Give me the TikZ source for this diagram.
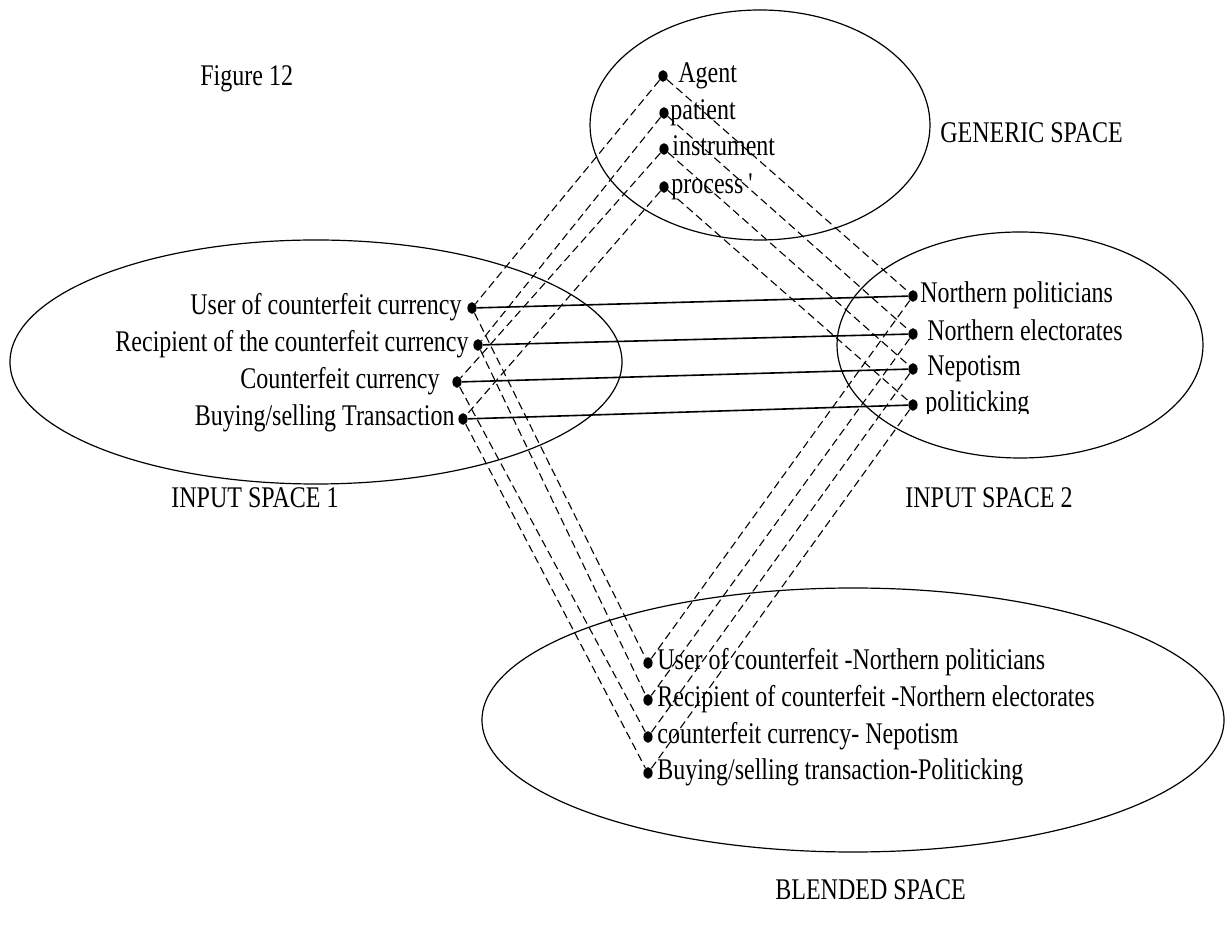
\documentclass[tikz,border=0pt]{standalone}
\usepackage{fontspec}
\setmainfont{Liberation Serif}[FakeStretch=0.8]
\usetikzlibrary{shapes.geometric}
\begin{document}
\begin{tikzpicture}[x=0.5pt,y=-0.5pt,
  dot/.style={ellipse,fill=black,inner sep=0pt,minimum width=4.6pt,minimum height=5.8pt},
  lbl/.style={inner sep=0pt,font=\fontsize{15pt}{18pt}\selectfont},
  lblw/.style={lbl,anchor=base west},
  lble/.style={lbl,anchor=base east},
  spacering/.style={draw=black,line width=0.6pt},
  mapline/.style={draw=black,line width=0.55pt,dash pattern=on 4pt off 2.2pt},
  link/.style={draw=black,line width=0.8pt}]
\useasboundingbox (0,0) rectangle (1226,929);

% the four mental spaces
\draw[spacering] (760,125) ellipse [x radius=170, y radius=115];
\draw[spacering] (316,362) ellipse [x radius=306, y radius=122];
\draw[spacering] (1020,345) ellipse [x radius=183, y radius=113];
\draw[spacering] (853,720) ellipse [x radius=371, y radius=132];

% generic space elements
\node[dot] (g1) at (663,76) {};
\node[dot] (g2) at (664,113) {};
\node[dot] (g3) at (664,149) {};
\node[dot] (g4) at (664,187) {};
% input space 1 elements
\node[dot] (a1) at (472,308) {};
\node[dot] (a2) at (478,345) {};
\node[dot] (a3) at (457,382) {};
\node[dot] (a4) at (463,419) {};
% input space 2 elements
\node[dot] (b1) at (913,296) {};
\node[dot] (b2) at (913,334) {};
\node[dot] (b3) at (913,369) {};
\node[dot] (b4) at (913,405) {};
% blended space elements
\node[dot] (c1) at (648,663) {};
\node[dot] (c2) at (648,700) {};
\node[dot] (c3) at (648,737) {};
\node[dot] (c4) at (648,773) {};

% cross-space mappings
\foreach \i in {1,...,4}{
  \draw[mapline] (g\i) -- (a\i);
  \draw[mapline] (g\i) -- (b\i);
  \draw[mapline] (a\i) -- (c\i);
  \draw[mapline] (b\i) -- (c\i);
  \draw[link] (a\i) -- (b\i);
}

% element labels
\node[lblw] (tg1) at (678,83) {Agent};
\node[lblw] (tg2) at (670,120) {patient};
\node[lblw] (tg3) at (672,156) {instrument};
\node[lblw] (tg4) at (671,194) {process\,\textquotesingle};

\node[lble] (ta1) at (462,315) {User of counterfeit currency};
\node[lble] (ta2) at (469,352) {Recipient of the counterfeit currency};
\node[lble] (ta3) at (440,389) {Counterfeit currency};
\node[lble] (ta4) at (455,426) {Buying/selling Transaction};

\node[lblw] (tb1) at (920,303) {Northern politicians};
\node[lblw] (tb2) at (927,341) {Northern electorates};
\node[lblw] (tb3) at (927,376) {Nepotism};
\begin{scope}
  \clip (900,380) rectangle (1100,414);
  \node[lblw] (tb4) at (925,412) {politicking};
\end{scope}

\node[lblw] (tc1) at (657,670) {User of counterfeit -Northern politicians};
\node[lblw] (tc2) at (657,707) {Recipient of counterfeit -Northern electorates};
\node[lblw] (tc3) at (657,744) {counterfeit currency- Nepotism};
\node[lblw] (tc4) at (657,780) {Buying/selling transaction-Politicking};

% space titles
\node[lblw] (fig) at (200,86) {Figure 12};
\node[lblw] (gen) at (940,143) {GENERIC SPACE};
\node[lblw] (in1) at (171,508) {INPUT SPACE 1};
\node[lblw] (in2) at (905,508) {INPUT SPACE 2};
\node[lblw] (bld) at (775,899) {BLENDED SPACE};
\end{tikzpicture}
\end{document}
